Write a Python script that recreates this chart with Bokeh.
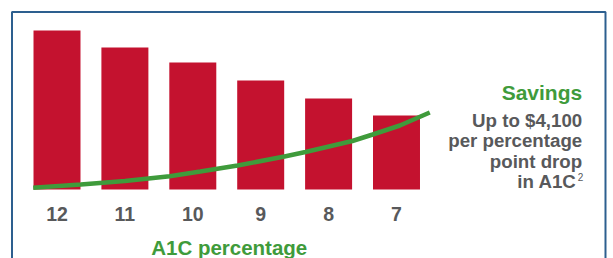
from bokeh.plotting import figure
from bokeh.models import Range1d, Label, ColumnDataSource
from bokeh.core.properties import value
from bokeh.embed import file_html
from bokeh.resources import INLINE

# data
a1c_labels = ["12", "11", "10", "9", "8", "7"]
cost_values = [159, 142, 127, 109, 91, 74]
savings_x = [-0.35, 0.35, 1.0, 1.66, 2.11, 2.66, 3.35, 3.66, 4.35, 4.65, 5.05, 5.49]
savings_y = [1.7, 5, 8.5, 13.3, 18, 24, 33, 37.5, 48.5, 55, 64, 77]
side_lines = ["Up to $4,100", "per percentage", "point drop", "in A1C"]

RED = "#c4122f"
GREEN = "#3f9b3b"
GRAY = "#58595b"
BLUE = "#2d5f8f"
FNAME = "Liberation Sans"
FONT = value(FNAME)

positions = list(range(len(a1c_labels)))

p = figure(width=612, height=258, output_backend="svg", toolbar_location=None,
           x_range=Range1d(-0.8321, 8.1812), y_range=Range1d(-69, 189),
           x_axis_type=None, y_axis_type=None, min_border=0)
p.grid.visible = False
p.outline_line_color = None
p.background_fill_color = "white"
p.border_fill_color = "white"

# box frame
p.line([-0.663, -0.663, 8.078, 8.078], [-80, 177.5, 177.5, -80],
       line_color=BLUE, line_width=2)

src = ColumnDataSource(dict(x=positions, top=cost_values, label=a1c_labels))
p.vbar(x="x", top="top", bottom=0, width=0.692, source=src,
       fill_color=RED, line_color=None)

p.line(savings_x, savings_y, line_color=GREEN, line_width=4.5, line_cap="butt")

p.text(x="x", y=-24.5, text="label", source=src, text_font=FONT,
       text_font_style="bold", text_font_size="19.5px", text_color=GRAY,
       text_align="center", text_baseline="alphabetic")

p.add_layout(Label(x=1.387, y=-58.3, text="A1C percentage", text_font=FNAME,
                   text_font_style="bold", text_font_size="20.5px",
                   text_color=GREEN, text_align="left", text_baseline="alphabetic"))

p.add_layout(Label(x=7.735, y=97.3, text="Savings", text_font=FNAME,
                   text_font_style="bold", text_font_size="21px",
                   text_color=GREEN, text_align="right", text_baseline="alphabetic"))

side_y = [69, 49, 28.5, 8]
for i, (t, yy) in enumerate(zip(side_lines, side_y)):
    xx = 7.735 if i < 3 else 7.651
    p.add_layout(Label(x=xx, y=yy, text=t, text_font=FNAME,
                       text_font_style="bold", text_font_size="18.7px",
                       text_color=GRAY, text_align="right", text_baseline="alphabetic"))
p.add_layout(Label(x=7.670, y=12.3, text="2", text_font=FNAME,
                   text_font_size="10px", text_color=GRAY,
                   text_align="left", text_baseline="alphabetic"))

open("out.html", "w").write(file_html(p, INLINE))
